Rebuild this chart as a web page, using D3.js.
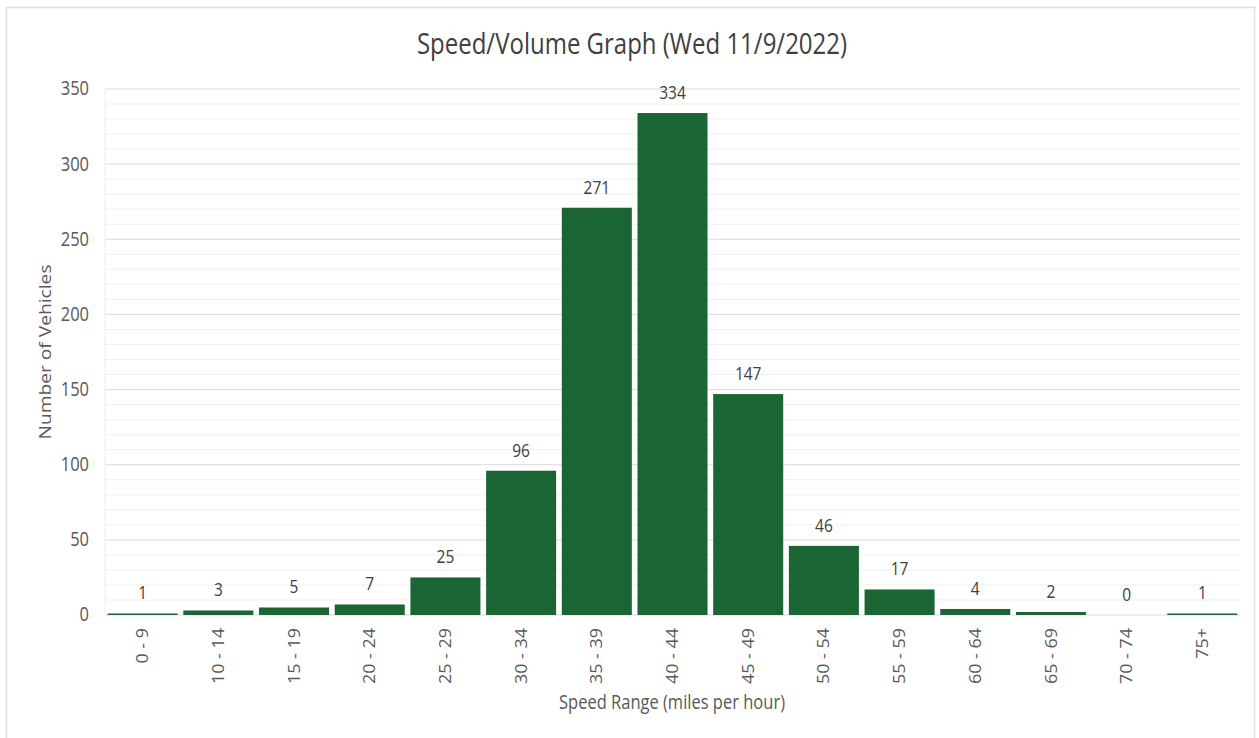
<!DOCTYPE html>
<html>
<head>
<meta charset="utf-8">
<script src="https://cdn.jsdelivr.net/npm/d3@7"></script>
<style>
  body { margin: 0; background: #fff; }
  text { font-family: "Open Sans", "Liberation Sans", sans-serif; }
</style>
</head>
<body>
<svg id="chart" width="1259" height="738"></svg>
<script>
const speedRanges = ["0 - 9", "10 - 14", "15 - 19", "20 - 24", "25 - 29", "30 - 34", "35 - 39",
  "40 - 44", "45 - 49", "50 - 54", "55 - 59", "60 - 64", "65 - 69", "70 - 74", "75+"];
const vehicleCounts = [1, 3, 5, 7, 25, 96, 271, 334, 147, 46, 17, 4, 2, 0, 1];
const yTicks = [0, 50, 100, 150, 200, 250, 300, 350];

const svg = d3.select("#chart");
const width = 1259;
const height = 738;
const margin = { top: 89, right: 19, bottom: 123, left: 105 };
const innerW = width - margin.left - margin.right;
const innerH = height - margin.top - margin.bottom;
// the source picture is a bit taller than wide, so text gets a vertical stretch
const stretch = 1.2;

// outer frame
svg.append("rect")
  .attr("x", 6.5).attr("y", 7.5)
  .attr("width", 1248).attr("height", 760)
  .attr("fill", "none")
  .attr("stroke", "#e0e0e0")
  .attr("stroke-width", 1.5);

const g = svg.append("g").attr("transform", `translate(${margin.left},${margin.top})`);

const x = d3.scaleBand().domain(speedRanges).range([0, innerW]).paddingInner(0.075).paddingOuter(0.035);
const y = d3.scaleLinear().domain([0, 350]).range([innerH, 0]);

// minor gridlines every 10
g.append("g")
  .selectAll("line")
  .data(d3.range(0, 351, 10).filter(v => v % 50 !== 0))
  .enter()
  .append("line")
  .attr("x1", 0).attr("x2", innerW)
  .attr("y1", d => y(d)).attr("y2", d => y(d))
  .attr("stroke", "#f0f0f0")
  .attr("stroke-width", 1);

// major gridlines
g.append("g")
  .selectAll("line")
  .data(yTicks)
  .enter()
  .append("line")
  .attr("x1", 0).attr("x2", innerW)
  .attr("y1", d => y(d)).attr("y2", d => y(d))
  .attr("stroke", "#dcdcdc")
  .attr("stroke-width", 1);

// left border line of plot
g.append("line")
  .attr("x1", 0).attr("x2", 0)
  .attr("y1", 0).attr("y2", innerH)
  .attr("stroke", "#ececec");

// y axis labels
const yAxis = g.append("g").call(d3.axisLeft(y).tickValues(yTicks).tickSize(0).tickPadding(16));
yAxis.select(".domain").remove();
yAxis.selectAll("text")
  .attr("transform", `scale(1,${stretch})`)
  .attr("dy", "0.3em")
  .style("font-size", "16.5px")
  .attr("fill", "#595959");

// bars
g.selectAll(".bar")
  .data(vehicleCounts)
  .enter()
  .append("rect")
  .attr("class", "bar")
  .attr("x", (d, i) => x(speedRanges[i]))
  .attr("y", d => y(d))
  .attr("width", x.bandwidth())
  .attr("height", d => innerH - y(d))
  .attr("fill", "#1b6535");

// data labels
g.selectAll(".label")
  .data(vehicleCounts)
  .enter()
  .append("text")
  .attr("class", "label")
  .attr("transform", (d, i) =>
    `translate(${x(speedRanges[i]) + x.bandwidth() / 2},${y(d) - 14}) scale(1,${stretch})`)
  .attr("text-anchor", "middle")
  .style("font-size", "15.5px")
  .attr("fill", "#404040")
  .text(d => d);

// x axis labels
const tickStretch = 1.12;
const xAxis = g.append("g")
  .attr("transform", `translate(0,${innerH})`)
  .call(d3.axisBottom(x).tickSize(0).tickPadding(0));
xAxis.select(".domain").remove();
xAxis.selectAll("text")
  .attr("transform", `rotate(-90) scale(${tickStretch},1)`)
  .attr("x", -13 / tickStretch)
  .attr("y", 0)
  .attr("dy", "0.35em")
  .attr("text-anchor", "end")
  .style("font-size", "16px")
  .attr("fill", "#595959");

// title
svg.append("text")
  .attr("transform", `translate(632,54) scale(1,${stretch})`)
  .attr("text-anchor", "middle")
  .style("font-size", "24px")
  .attr("fill", "#404040")
  .text("Speed/Volume Graph (Wed 11/9/2022)");

// axis titles
svg.append("text")
  .attr("transform", `translate(672,709) scale(1,${stretch})`)
  .attr("text-anchor", "middle")
  .style("font-size", "16.5px")
  .attr("fill", "#595959")
  .text("Speed Range (miles per hour)");

svg.append("text")
  .attr("transform", `translate(51,${margin.top + innerH / 2}) rotate(-90) scale(${stretch},1)`)
  .attr("text-anchor", "middle")
  .style("font-size", "16px")
  .attr("fill", "#595959")
  .text("Number of Vehicles");
</script>
</body>
</html>
